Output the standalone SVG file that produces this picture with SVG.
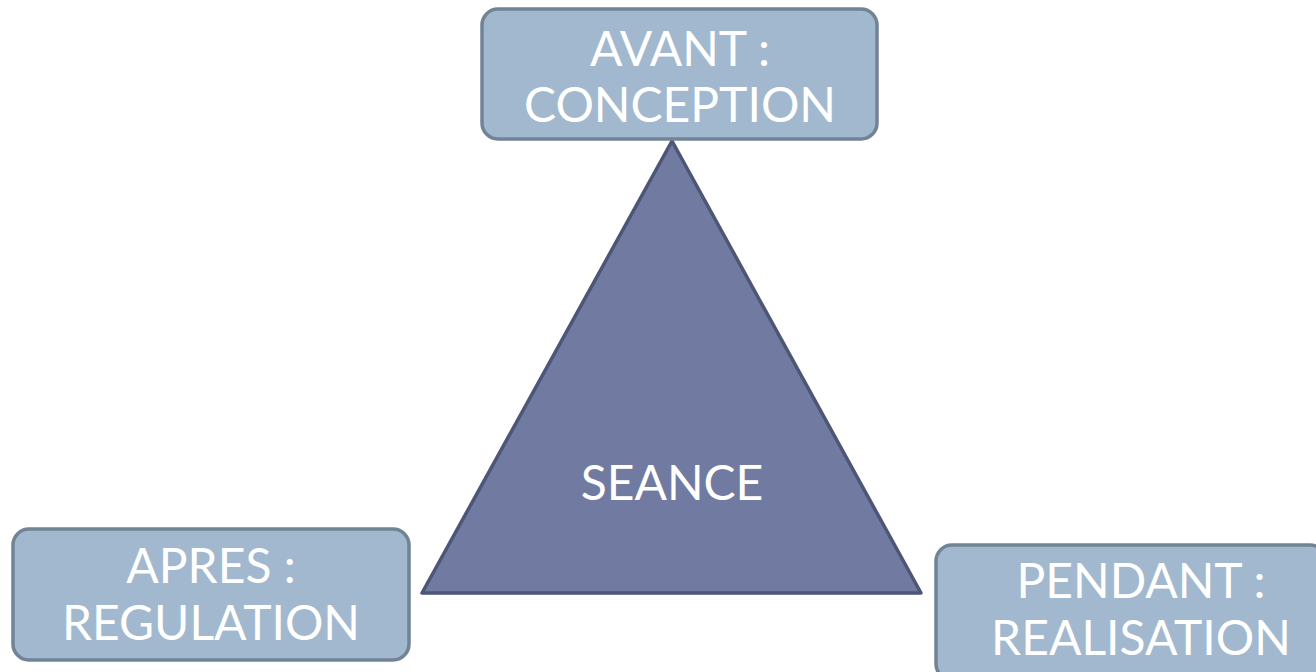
<svg xmlns="http://www.w3.org/2000/svg" width="1316" height="672" viewBox="0 0 1316 672">
<style>
.box{fill:#a2b8cf;stroke:#718496;stroke-width:3.5}
.tri{fill:#717aa0;stroke:#4d5677;stroke-width:3.5;stroke-linejoin:round}
.t{font-family:"Lato","Open Sans","Liberation Sans",sans-serif;font-size:48px;fill:#ffffff;text-anchor:middle}
</style>
<rect width="1316" height="672" fill="#ffffff"/>
<g id="connectors"></g>
<g id="seance">
<polygon class="tri" points="672,141 422,593 921,593"/>
<text class="t" x="672" y="500">SEANCE</text>
</g>
<g id="avant">
<rect class="box" x="482" y="9" width="395" height="130" rx="16"/>
<text class="t" x="680" y="66">AVANT :</text>
<text class="t" x="680" y="122">CONCEPTION</text>
</g>
<g id="apres">
<rect class="box" x="13" y="529" width="396" height="131" rx="16"/>
<text class="t" x="211" y="583">APRES :</text>
<text class="t" x="211" y="640">REGULATION</text>
</g>
<g id="pendant">
<rect class="box" x="936" y="545" width="390" height="135" rx="16"/>
<text class="t" x="1141" y="598">PENDANT :</text>
<text class="t" x="1141" y="655">REALISATION</text>
</g>
</svg>
